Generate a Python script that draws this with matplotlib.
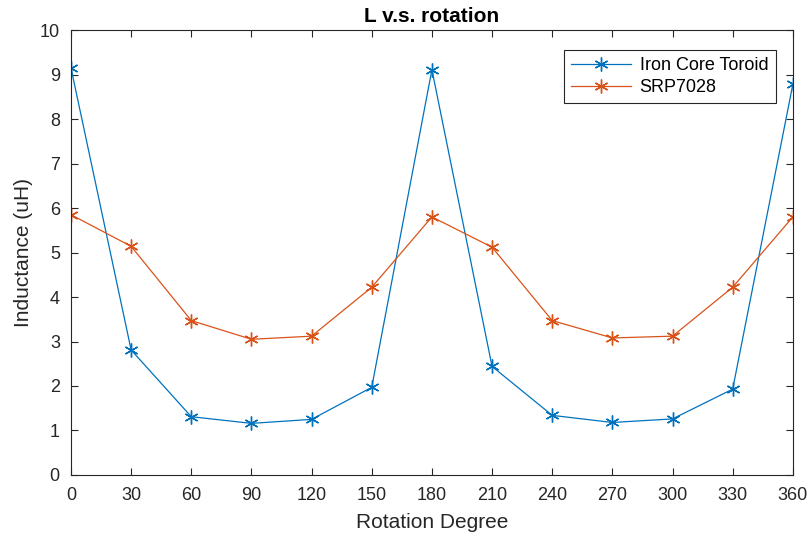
import matplotlib
matplotlib.use("Agg")
import matplotlib.pyplot as plt

# rotation angles and measured inductance
angles = [0, 30, 60, 90, 120, 150, 180, 210, 240, 270, 300, 330, 360]
iron_core = [9.15, 2.81, 1.31, 1.16, 1.25, 1.97, 9.11, 2.44, 1.34, 1.18, 1.26, 1.93, 8.78]
srp7028 = [5.85, 5.14, 3.47, 3.05, 3.12, 4.22, 5.80, 5.12, 3.47, 3.08, 3.12, 4.22, 5.80]

plt.rcParams['font.family'] = ['Liberation Sans', 'DejaVu Sans']

fig = plt.figure(figsize=(8.12, 5.37), dpi=100)
ax = fig.add_axes([0.0874, 0.1155, 0.889, 0.8285])

# matlab style asterisk marker
star = (6, 2, 0)
ax.plot(angles, iron_core, color='#0072BD', marker=star, markersize=10,
        markeredgewidth=1.0, linewidth=0.9, label='Iron Core Toroid')
ax.plot(angles, srp7028, color='#D95319', marker=star, markersize=10,
        markeredgewidth=1.0, linewidth=0.9, label='SRP7028')

ax.set_xlim(0, 360)
ax.set_ylim(0, 10)
ax.set_xticks(range(0, 361, 30))
ax.set_yticks(range(0, 11))
ax.tick_params(direction='in', top=True, right=True, labelsize=13,
               length=5, width=0.8, colors='#262626')
ax.tick_params(axis='x', pad=9)
ax.tick_params(axis='y', pad=8)
for s in ax.spines.values():
    s.set_color('#262626')
    s.set_linewidth(0.8)

ax.set_xlabel('Rotation Degree', fontsize=15, color='#262626', labelpad=6)
ax.set_ylabel('Inductance (uH)', fontsize=15, color='#262626', labelpad=5)
ax.set_title('L v.s. rotation', fontsize=15, fontweight='bold', pad=6)

leg = ax.legend(loc='upper right', bbox_to_anchor=(0.976, 0.955), fontsize=13,
                fancybox=False, edgecolor='#262626', framealpha=1,
                handlelength=3.3, handletextpad=0.5, borderpad=0.4,
                labelspacing=0.25, borderaxespad=0)
leg.get_frame().set_linewidth(0.8)

fig.savefig('out.png', dpi=100)
